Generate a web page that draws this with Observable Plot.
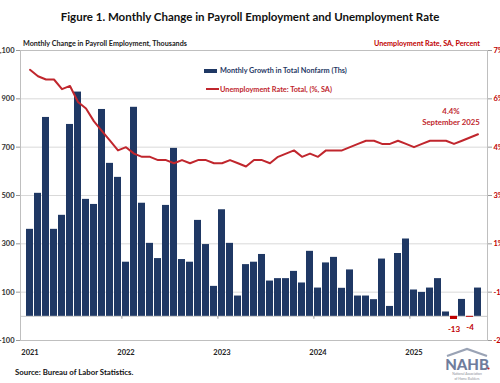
<!DOCTYPE html>
<html><head><meta charset="utf-8">
<script src="https://cdn.jsdelivr.net/npm/d3@7"></script>
<script src="https://cdn.jsdelivr.net/npm/@observablehq/plot@0.6"></script>
<style>
body{margin:0;background:#fff;}
#wrap{position:relative;width:500px;height:383px;overflow:hidden;font-family:Lato,"Open Sans",sans-serif;}
.abs{position:absolute;white-space:nowrap;font-weight:bold;line-height:1;}
</style></head><body>
<div id="wrap">
<div id="chart" style="position:absolute;left:0;top:0;"></div>
<div class="abs" style="left:0;width:500px;top:11px;text-align:center;font-size:11.5px;color:#111;">Figure 1. Monthly Change in Payroll Employment and Unemployment Rate</div>
<div class="abs" style="left:23px;top:39.5px;font-size:7.2px;color:#222;">Monthly Change in Payroll Employment, Thousands</div>
<div class="abs" style="right:20px;top:39.5px;font-size:7.2px;color:#c00000;">Unemployment Rate, SA, Percent</div>
<div style="position:absolute;left:204px;top:69px;width:13px;height:4px;background:#1f3864;"></div>
<div class="abs" style="left:220px;top:67px;font-size:7.3px;color:#1f3864;">Monthly Growth in Total Nonfarm (Ths)</div>
<div style="position:absolute;left:206px;top:88px;width:13px;height:2px;background:#c0262d;"></div>
<div class="abs" style="left:220px;top:85.5px;font-size:7.3px;color:#c0262d;">Unemployment Rate: Total, (%, SA)</div>
<div class="abs" style="left:15px;top:369px;font-size:7.8px;color:#111;">Source: Bureau of Labor Statistics.</div>
<svg style="position:absolute;left:440px;top:345px;" width="60" height="38">
  <polyline points="7,11 27,4 47,11" fill="none" stroke="#9aa3b5" stroke-width="2.2"/>
  <text x="27" y="25" text-anchor="middle" font-family="Lato" font-weight="900" font-size="15" fill="#6f7d9c">NAHB</text>
  <circle cx="48.5" cy="23.5" r="1.1" fill="#c0262d"/>
  <text x="27" y="30" text-anchor="middle" font-family="Lato" font-size="3.3" fill="#8a8f99">National Association</text>
  <text x="27" y="34.5" text-anchor="middle" font-family="Lato" font-size="3.3" fill="#8a8f99">of Home Builders</text>
</svg>
</div>
<script>
// Monthly change in total nonfarm payrolls (thousands), Jan 2021 – Sep 2025
const payroll = [
  360, 509, 823, 360, 418, 794, 928, 484, 463, 856, 633, 575,
  224, 865, 468, 302, 239, 459, 695, 235, 224, 397, 297, 124,
  441, 302, 84, 214, 224, 256, 146, 156, 156, 186, 138, 269,
  117, 221, 244, 116, 192, 84, 84, 69, 237, 41, 260, 320,
  109, 99, 117, 156, 18, -13, 70, -4, 117
];
// Unemployment rate (%, SA)
const unemp = [
  6.4, 6.2, 6.1, 6.1, 5.8, 5.9, 5.4, 5.2, 4.8, 4.5, 4.2, 3.9,
  4.0, 3.8, 3.7, 3.7, 3.6, 3.6, 3.5, 3.6, 3.5, 3.6, 3.6, 3.5,
  3.5, 3.6, 3.5, 3.4, 3.6, 3.6, 3.5, 3.7, 3.8, 3.9, 3.7, 3.8,
  3.7, 3.9, 3.9, 3.9, 4.0, 4.1, 4.2, 4.2, 4.1, 4.1, 4.2, 4.1,
  4.0, 4.1, 4.2, 4.2, 4.2, 4.1, 4.2, 4.3, 4.4
];
const years = ["2021", "2022", "2023", "2024", "2025"];
const leftTicks = [-100, 100, 300, 500, 700, 900, 1100];
const rightTickLabels = ["-2%", "-1%", "1%", "3%", "4%", "6%", "7%"];
const leftDomain = [-100, 1100];
const rightDomain = [-2, 7];
const annotation = ["4.4%", "September 2025"];
const negLabels = ["-13", "-4"];

const navy = "#1f3864", red = "#c0262d", negRed = "#c00000";
// map a rate onto the left (payroll) scale, since the two axes share the frame
const toLeft = r => (r - rightDomain[0]) / (rightDomain[1] - rightDomain[0]) * (leftDomain[1] - leftDomain[0]) + leftDomain[0];

const rows = payroll.map((v, i) => ({i, v, u: unemp[i]}));
const negs = rows.filter(d => d.v < 0).map((d, k) => ({...d, label: negLabels[k]}));
const last = rows[rows.length - 1];
const yearIdx = years.map((y, k) => k * 12);

const chart = Plot.plot({
  width: 500, height: 383,
  marginTop: 50, marginBottom: 43, marginLeft: 20, marginRight: 13,
  style: {fontFamily: "Lato, 'Open Sans', sans-serif", fontSize: "7px", background: "white"},
  x: {type: "band", domain: d3.range(payroll.length), paddingInner: 0.16, paddingOuter: 0.04, axis: null},
  y: {domain: leftDomain, axis: null},
  marks: [
    Plot.gridY(leftTicks, {stroke: "#d9d9d9", strokeOpacity: 1}),
    Plot.ruleY([0], {stroke: "#c8c8c8"}),
    Plot.frame({stroke: "#bfbfbf"}),
    Plot.ruleX(yearIdx.slice(1), {x: d => d, y1: 0, y2: -12, dx: -4.1, stroke: "#999"}),
    Plot.barY(rows.filter(d => d.v >= 0), {x: "i", y: "v", fill: navy}),
    Plot.barY(negs, {x: "i", y: "v", fill: negRed}),
    Plot.line(rows, {x: "i", y: d => toLeft(d.u), stroke: red, strokeWidth: 2}),
    Plot.text(negs, {x: "i", y: "v", text: "label", dy: 10, fill: negRed, fontWeight: "bold", fontSize: 8}),
    Plot.text([last], {x: "i", y: d => toLeft(d.u), text: () => annotation.join("\n"), dx: -27, dy: -9, lineAnchor: "bottom", lineHeight: 1.4, fill: red, fontWeight: "bold", fontSize: 7.8}),
    Plot.axisY(leftTicks, {anchor: "left", tickSize: 4, tickPadding: 2, stroke: "#999", fill: "#333", fontWeight: "bold", fontSize: 7.5, tickFormat: d => d, label: null}),
    Plot.axisY(leftTicks, {anchor: "right", tickSize: 4, tickPadding: 2, stroke: "#999", fill: negRed, fontWeight: "bold", fontSize: 7.5, tickFormat: d => rightTickLabels[leftTicks.indexOf(d)], label: null}),
    Plot.axisX(yearIdx, {anchor: "bottom", tickSize: 0, tickPadding: 9, fill: "#222", fontWeight: "bold", fontSize: 7.5, tickFormat: d => years[yearIdx.indexOf(d)], label: null})
  ]
});
document.getElementById("chart").appendChild(chart);
</script>
</body></html>
